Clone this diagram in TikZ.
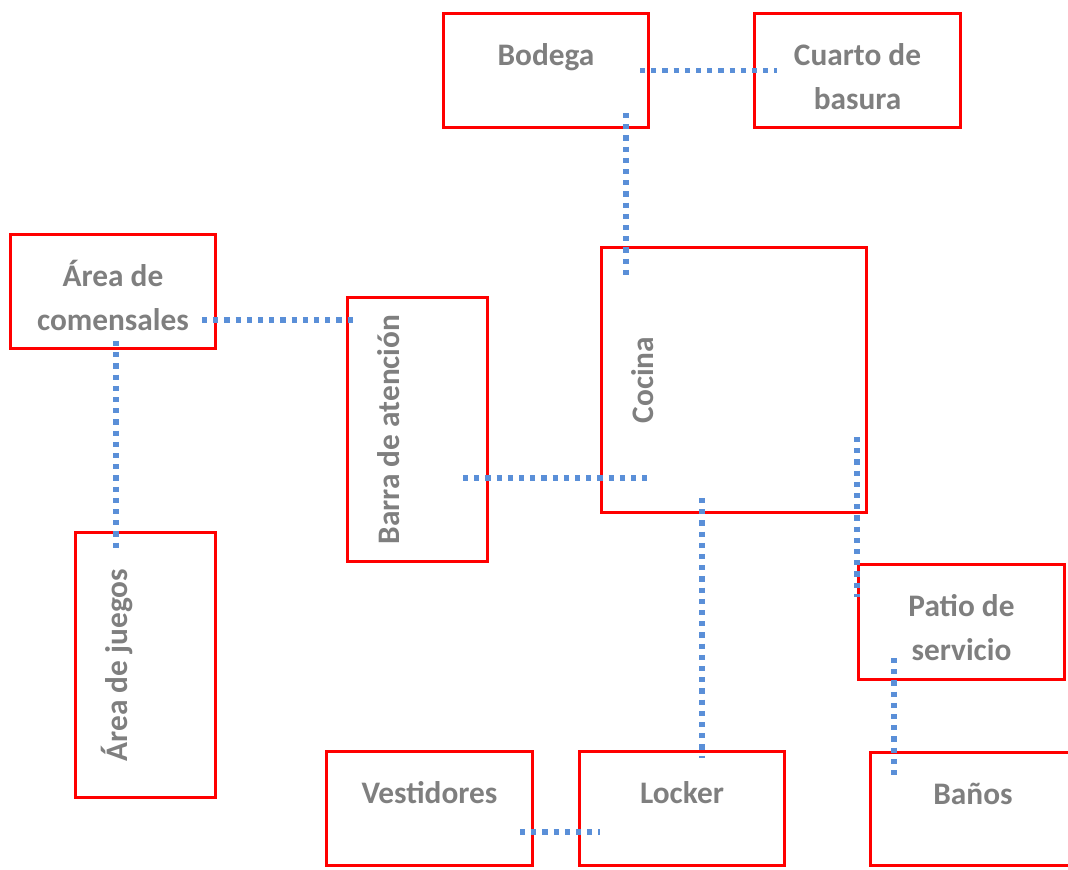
\documentclass[tikz,border=0pt]{standalone}
\usepackage{fontspec}
\setmainfont{Carlito}
\usetikzlibrary{calc}
\definecolor{boxred}{HTML}{FF0000}
\definecolor{linkblue}{HTML}{5A8FD8}
\definecolor{labelgray}{HTML}{7F7F7F}
\tikzset{
  room/.style n args={2}{draw=boxred, line width=2.8pt, inner sep=0pt, outer sep=0pt,
    minimum width=#1*0.75pt, minimum height=#2*0.75pt},
  roomtext/.style={anchor=base, inner sep=0pt, align=center, text=labelgray,
    font=\fontsize{23.5}{33}\selectfont\bfseries},
  link/.style={draw=linkblue, line width=3.9pt, dash pattern=on 3.9pt off 4.5pt}
}
\begin{document}
\begin{tikzpicture}[x=0.75pt,y=-0.75pt]
\useasboundingbox (0,0) rectangle (1068,869);
% rooms
\node[room={205}{114}] (bodega) at (546,70.5) {};
\node[room={206}{114}] (cuarto) at (857.5,70.5) {};
\node[room={205}{114}] (comensales) at (113,291.5) {};
\node[room={140}{264}] (barra) at (417.5,429.5) {};
\node[room={265}{265}] (cocina) at (734,380) {};
\node[room={140}{265}] (juegos) at (145.5,665) {};
\node[room={206}{115}] (patio) at (961.5,622) {};
\node[room={206}{114}] (vestidores) at (429.5,808.5) {};
\node[room={205}{114}] (locker) at (682,808.5) {};
\node[room={205}{113}] (banos) at (973,809) {};
% labels (base of a two-line label is its last line)
\node[roomtext] (bodega-t) at ($(bodega.north)+(0,52)$) {Bodega};
\node[roomtext] (cuarto-t) at ($(cuarto.north)+(0,96)$) {Cuarto de\\basura};
\node[roomtext] (comensales-t) at ($(comensales.north)+(0,96)$) {Área de\\comensales};
\node[roomtext, rotate=90] (barra-t) at ($(barra.west)+(52,0)$) {Barra de atención};
\node[roomtext, rotate=90] (cocina-t) at ($(cocina.west)+(52,0)$) {Cocina};
\node[roomtext, rotate=90] (juegos-t) at ($(juegos.west)+(52,0)$) {Área de juegos};
\node[roomtext] (patio-t) at ($(patio.north)+(0,96)$) {Patio de\\servicio};
\node[roomtext] (vestidores-t) at ($(vestidores.north)+(0,52)$) {Vestidores};
\node[roomtext] (locker-t) at ($(locker.north)+(0,52)$) {Locker};
\node[roomtext] (banos-t) at ($(banos.north)+(0,52)$) {Baños};
% links
\draw[link] ($(bodega.east)+(-8.5,0)$) -- ($(cuarto.west)+(22.5,0)$);
\draw[link] ($(bodega.south east)+(-22.5,-14.5)$) -- ($(cocina.north west)+(24.5,27.5)$);
\draw[link] ($(comensales.south east)+(-13.5,-28.5)$) -- ($(barra.north west)+(10.5,22.5)$);
\draw[link] ($(comensales.south)+(3,-7.5)$) -- ($(juegos.north)+(-29.5,17.5)$);
\draw[link] ($(barra.east)+(-24.5,48.5)$) -- ($(cocina.west)+(46.5,98)$);
\draw[link] ($(cocina.south)+(-32,-14.5)$) -- ($(locker.north)+(20,6.5)$);
\draw[link] ($(cocina.south east)+(-9.5,-75.5)$) -- ($(patio.north west)+(-1.5,32.5)$);
\draw[link] ($(patio.south west)+(35.5,-21.5)$) -- ($(banos.north west)+(23.5,26.5)$);
\draw[link] ($(vestidores.east)+(-12.5,23.5)$) -- ($(locker.west)+(20.5,23.5)$);
\end{tikzpicture}
\end{document}
